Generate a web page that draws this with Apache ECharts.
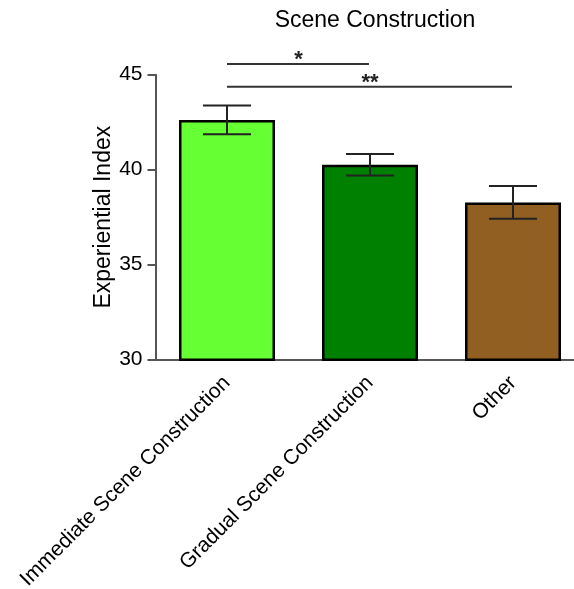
<!DOCTYPE html>
<html>
<head>
<meta charset="utf-8">
<script src="https://cdn.jsdelivr.net/npm/echarts@6/dist/echarts.min.js"></script>
<style>html,body{margin:0;padding:0;background:#fff}#c{width:574px;height:589px}</style>
</head>
<body>
<div id="c"></div>
<script>
var categories = ['Immediate Scene Construction', 'Gradual Scene Construction', 'Other'];
var means = [42.62, 40.26, 38.28];
var errors = [0.76, 0.57, 0.86];
var barColors = ['#66ff33', '#008000', '#915f21'];
var yTicks = {min: 30, max: 45, interval: 5};
// significance brackets: [fromIndex, toIndex, yValue, label]
var sigFrom = [0, 0];
var sigTo = [1, 2];
var sigLevel = [45.56, 44.37];
var sigLabel = ['*', '**'];

var FONT = '"Liberation Sans", Arial, sans-serif';
var chart = echarts.init(document.getElementById('c'), null, {renderer: 'canvas'});

var errData = categories.map(function (c, i) { return [i, means[i] - errors[i], means[i] + errors[i]]; });
var sigData = sigFrom.map(function (f, i) { return [f, sigTo[i], sigLevel[i], sigLabel[i]]; });

chart.setOption({
  animation: false,
  backgroundColor: '#fff',
  title: {
    text: 'Scene Construction',
    left: 370, top: 4, textAlign: 'center',
    textStyle: {fontFamily: FONT, fontSize: 23, fontWeight: 'normal', color: '#000'}
  },
  grid: {left: 155.5, top: 74.7, width: 429, height: 285, containLabel: false, outerBoundsMode: 'none'},
  xAxis: {
    type: 'category',
    data: categories,
    axisLine: {lineStyle: {color: '#555', width: 2}},
    axisTick: {alignWithLabel: true, length: 8, lineStyle: {color: '#555', width: 2}},
    axisLabel: {rotate: 45, margin: 20, fontFamily: FONT, fontSize: 21, color: '#000', interval: 0}
  },
  yAxis: {
    type: 'value',
    min: yTicks.min, max: yTicks.max, interval: yTicks.interval,
    name: 'Experiential Index',
    nameLocation: 'middle',
    nameGap: 40,
    nameMoveOverlap: false,
    nameTextStyle: {fontFamily: FONT, fontSize: 23, color: '#000'},
    axisLine: {show: true, lineStyle: {color: '#555', width: 2}},
    axisTick: {show: true, length: 8, lineStyle: {color: '#555', width: 2}},
    axisLabel: {margin: 13, fontFamily: FONT, fontSize: 21, color: '#000'},
    splitLine: {show: false}
  },
  series: [
    {
      type: 'bar',
      barWidth: 96,
      data: means.map(function (v, i) {
        return {value: v, itemStyle: {color: barColors[i], borderColor: '#000', borderWidth: 2.5}};
      })
    },
    {
      type: 'custom',
      clip: false,
      data: errData,
      z: 10,
      renderItem: function (params, api) {
        var lo = api.coord([api.value(0), api.value(1)]);
        var hi = api.coord([api.value(0), api.value(2)]);
        var hw = api.size([1, 0])[0] * 0.168;
        var st = {stroke: '#222', lineWidth: 2};
        return {
          type: 'group',
          children: [
            {type: 'line', shape: {x1: hi[0], y1: hi[1], x2: lo[0], y2: lo[1]}, style: st},
            {type: 'line', shape: {x1: hi[0] - hw, y1: hi[1], x2: hi[0] + hw, y2: hi[1]}, style: st},
            {type: 'line', shape: {x1: lo[0] - hw, y1: lo[1], x2: lo[0] + hw, y2: lo[1]}, style: st}
          ]
        };
      }
    },
    {
      type: 'custom',
      clip: false,
      data: sigData,
      z: 10,
      renderItem: function (params, api) {
        var a = api.coord([api.value(0), api.value(2)]);
        var b = api.coord([api.value(1), api.value(2)]);
        var label = sigLabel[params.dataIndex];
        return {
          type: 'group',
          children: [
            {type: 'line', shape: {x1: a[0], y1: a[1], x2: b[0] - 1, y2: b[1]}, style: {stroke: '#333', lineWidth: 2}},
            {type: 'text', x: (a[0] + b[0]) / 2, y: a[1] + 7,
             style: {text: label, textAlign: 'center', textVerticalAlign: 'bottom', font: 'bold 22px ' + FONT, fill: '#222'}}
          ]
        };
      }
    }
  ]
});
</script>
</body>
</html>
